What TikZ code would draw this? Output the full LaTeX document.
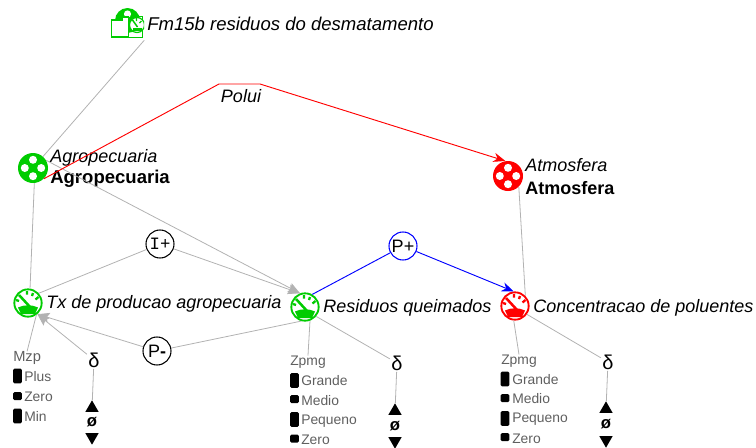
\documentclass[tikz,border=0pt]{standalone}
\usepackage{fontspec}
\setmainfont{Liberation Sans}
\newfontfamily\slabfont{Liberation Mono}
\usetikzlibrary{shapes.geometric,arrows.meta}
\definecolor{qgreen}{RGB}{0,204,0}
\definecolor{linegray}{RGB}{178,178,178}
\definecolor{listgray}{RGB}{95,95,95}
\begin{document}
\begin{tikzpicture}[
        x=0.75pt, y=-0.75pt,
        entity/.style={circle, fill=#1, inner sep=0pt, minimum size=22.5pt,
            path picture={
                \begin{scope}[shift={(path picture bounding box.center)}]
                    \fill[white] (0,-8.2) circle (4) (8.2,0) circle (4) (0,8.2) circle (4) (-8.2,0) circle (4);
                \end{scope}}},
        gauge/.style={circle, draw=#1, line width=1.4pt, fill=white, inner sep=0pt, minimum size=20.5pt,
            path picture={
                \begin{scope}[shift={(path picture bounding box.center)}]
                    \fill[#1] (-10,4.5) .. controls (-4,1.5) and (4,1.5) .. (10,4.5) -- (7,11) -- (-7,11) -- cycle;
                    \draw[#1, line width=1.9pt] (-9,-8) -- (3,5);
                    \draw[#1, line width=1.7pt] (-1,-12) -- (-1,-8.5) (5,-10) -- (4,-7) (10.5,-6) -- (7.5,-3.5) (-12,-3) -- (-9,-2);
                \end{scope}}},
        influence/.style={circle, draw, fill=white, line width=0.8pt, inner sep=0pt, minimum size=21pt, font=\fontsize{13.5}{14}\selectfont},
        link/.style={draw=linegray, line width=0.6pt},
        linkarrow/.style={link, -{Stealth[length=9pt, width=7.5pt, inset=1.5pt]}},
        title/.style={font=\fontsize{13.5}{15}\selectfont\itshape, anchor=west, inner sep=0pt},
        boldtitle/.style={font=\fontsize{13.9}{15}\selectfont\bfseries, anchor=west, inner sep=0pt},
        qspace/.style={font=\fontsize{10.4}{12}\selectfont, text=listgray, anchor=west, inner sep=0pt},
        tallbar/.style={fill=black, rounded corners=1pt, inner sep=0pt, minimum width=6.5pt, minimum height=11pt},
        lowbar/.style={fill=black, rounded corners=1pt, inner sep=0pt, minimum width=6.5pt, minimum height=6pt},
        deriv/.style={font=\fontsize{15}{16}\selectfont, inner sep=1pt},
        zero/.style={font=\fontsize{12.5}{14}\selectfont\bfseries, inner sep=0pt},
        tri/.style={regular polygon, regular polygon sides=3, fill=black, inner sep=0pt, minimum size=11.5pt}
    ]
        \useasboundingbox (0,0) rectangle (756,447);

        \node[inner sep=0pt, minimum width=24.75pt, minimum height=24pt, path picture={
                \begin{scope}[shift={(path picture bounding box.center)}]
                    \fill[qgreen] (0,-3.5) circle (12.5);
                    \fill[white] (0,-10) circle (3.6);
                    \draw[qgreen, line width=0.6pt] (11,-8) -- (15,-8) -- (15,13) -- (-15,13);
                    \draw[qgreen, line width=0.9pt, fill=white] (-16,-4) -- (-5,-4) -- (-5,-7) -- (1,-7) -- (1,13) -- (-16,13) -- cycle;
                    \draw[qgreen, fill=white, line width=0.9pt] (9.5,1) circle (7.5);
                    \draw[qgreen, line width=1.1pt] (5,-4) -- (10,3);
                    \draw[qgreen, line width=1pt] (9,-6) -- (9,-3) (14,-3) -- (12,-1);
                    \fill[qgreen] (5,4) rectangle (14,7);
                \end{scope}}] (fmicon) at (127.5,24) {};
        \node[title, font=\fontsize{13.9}{15}\selectfont\itshape] (fmlabel) at (147,24) {Fm15b residuos do desmatamento};

        \node[entity=qgreen] (agro) at (33,168) {};
        \node[title] (agroname) at (50,158) {Agropecuaria};
        \node[boldtitle] (agrotype) at (50,179) {Agropecuaria};
        \node[entity=red] (atm) at (508,176) {};
        \node[title] (atmname) at (525,165) {Atmosfera};
        \node[boldtitle, font=\fontsize{13.5}{15}\selectfont\bfseries] (atmtype) at (525,188) {Atmosfera};

        \node[gauge=qgreen] (tx) at (28,303) {};
        \node[title] (txlabel) at (46,304) {Tx de producao agropecuaria};
        \node[gauge=qgreen] (res) at (305,307) {};
        \node[title] (reslabel) at (323,308) {Residuos queimados};
        \node[gauge=red] (conc) at (515,306) {};
        \node[title] (conclabel) at (533,308) {Concentracao de poluentes};

        \node[influence, font=\fontsize{13}{14}\slabfont] (iplus) at (160,244) {I+};
        \node[influence, draw=blue] (pplus) at (403,246) {P+};
        \node[influence] (pminus) at (157,351) {P\textbf{-}};
        \coordinate (poluia) at (219,84);
        \coordinate (poluib) at (260,84);
        \node[font=\fontsize{13.5}{15}\selectfont\itshape, inner sep=0pt] (polui) at (241,96) {Polui};

        % quantity space of Tx
        \node[qspace, font=\fontsize{11}{12}\selectfont] (mzp) at (13,358) {Mzp};
        \node[tallbar] (txbara) at (17.5,376) {};
        \node[qspace] (txplus) at (24,377) {Plus};
        \node[lowbar] (txbarb) at (17.5,396) {};
        \node[qspace] (txzero) at (24,397) {Zero};
        \node[tallbar] (txbarc) at (17.5,416) {};
        \node[qspace] (txmin) at (24,416) {Min};
        \node[deriv] (txdelta) at (94,360) {δ};
        \node[tri] (txup) at (92,408) {};
        \node[zero] (txzeroval) at (92,422) {ø};
        \node[tri, shape border rotate=180] (txdown) at (92,437) {};

        % quantity space of Residuos
        \node[qspace] (reszpmg) at (290,362) {Zpmg};
        \node[tallbar] (resbara) at (294.5,380.5) {};
        \node[qspace] (resgrande) at (301,381) {Grande};
        \node[lowbar] (resbarb) at (294.5,399) {};
        \node[qspace] (resmedio) at (301,401) {Medio};
        \node[tallbar] (resbarc) at (294.5,419.5) {};
        \node[qspace] (respequeno) at (301,421) {Pequeno};
        \node[lowbar] (resbard) at (294.5,438.5) {};
        \node[qspace] (reszero) at (301,440) {Zero};
        \node[deriv] (resdelta) at (397,363) {δ};
        \node[tri] (resup) at (395,411) {};
        \node[zero] (reszeroval) at (395,426) {ø};
        \node[tri, shape border rotate=180] (resdown) at (395,441) {};

        % quantity space of Concentracao
        \node[qspace] (conczpmg) at (501,361) {Zpmg};
        \node[tallbar] (concbara) at (505,379) {};
        \node[qspace] (concgrande) at (512,380) {Grande};
        \node[lowbar] (concbarb) at (505,398) {};
        \node[qspace] (concmedio) at (512,399) {Medio};
        \node[tallbar] (concbarc) at (505,418.5) {};
        \node[qspace] (concpequeno) at (512,419) {Pequeno};
        \node[lowbar] (concbard) at (505,437) {};
        \node[qspace] (conczero) at (512,439) {Zero};
        \node[deriv] (concdelta) at (608,362) {δ};
        \node[tri] (concup) at (606,409) {};
        \node[zero] (conczeroval) at (606,424) {ø};
        \node[tri, shape border rotate=180] (concdown) at (606,440) {};

        \draw[link] (fmicon.south east) -- (agro);
        \draw[link] (agro.-85) -- (tx.82);
        \draw[link] (atm.-45) -- (conc.45);
        \draw[link] (tx.42) -- (iplus);
        \draw[linkarrow] (iplus) -- (res.110);
        \draw[linkarrow] (agro.30) -- (res.110);
        \draw[linkarrow] (pminus) -- (tx.-50);
        \draw[link] (res.-105) -- (pminus);
        \draw[linkarrow] (txdelta) -- (tx.-50);
        \draw[link] (tx.-55) -- (mzp.north);
        \draw[link] (txdelta) -- (txup);
        \draw[link] (res.-70) -- (reszpmg.north);
        \draw[link] (res.-40) -- (resdelta);
        \draw[link] (resdelta) -- (resup);
        \draw[link] (conc.-95) -- (conczpmg.north);
        \draw[link] (conc.-35) -- (concdelta);
        \draw[link] (concdelta) -- (concup);
        \draw[red, line width=0.7pt, -{Stealth[length=9pt, width=7pt]}] (agro.-45) -- (poluia) -- (poluib) -- (atm.100);
        \draw[blue, line width=0.7pt] (res.60) -- (pplus);
        \draw[blue, line width=0.7pt, -{Stealth[length=9pt, width=7pt]}] (pplus) -- (conc.95);
    \end{tikzpicture}
\end{document}
